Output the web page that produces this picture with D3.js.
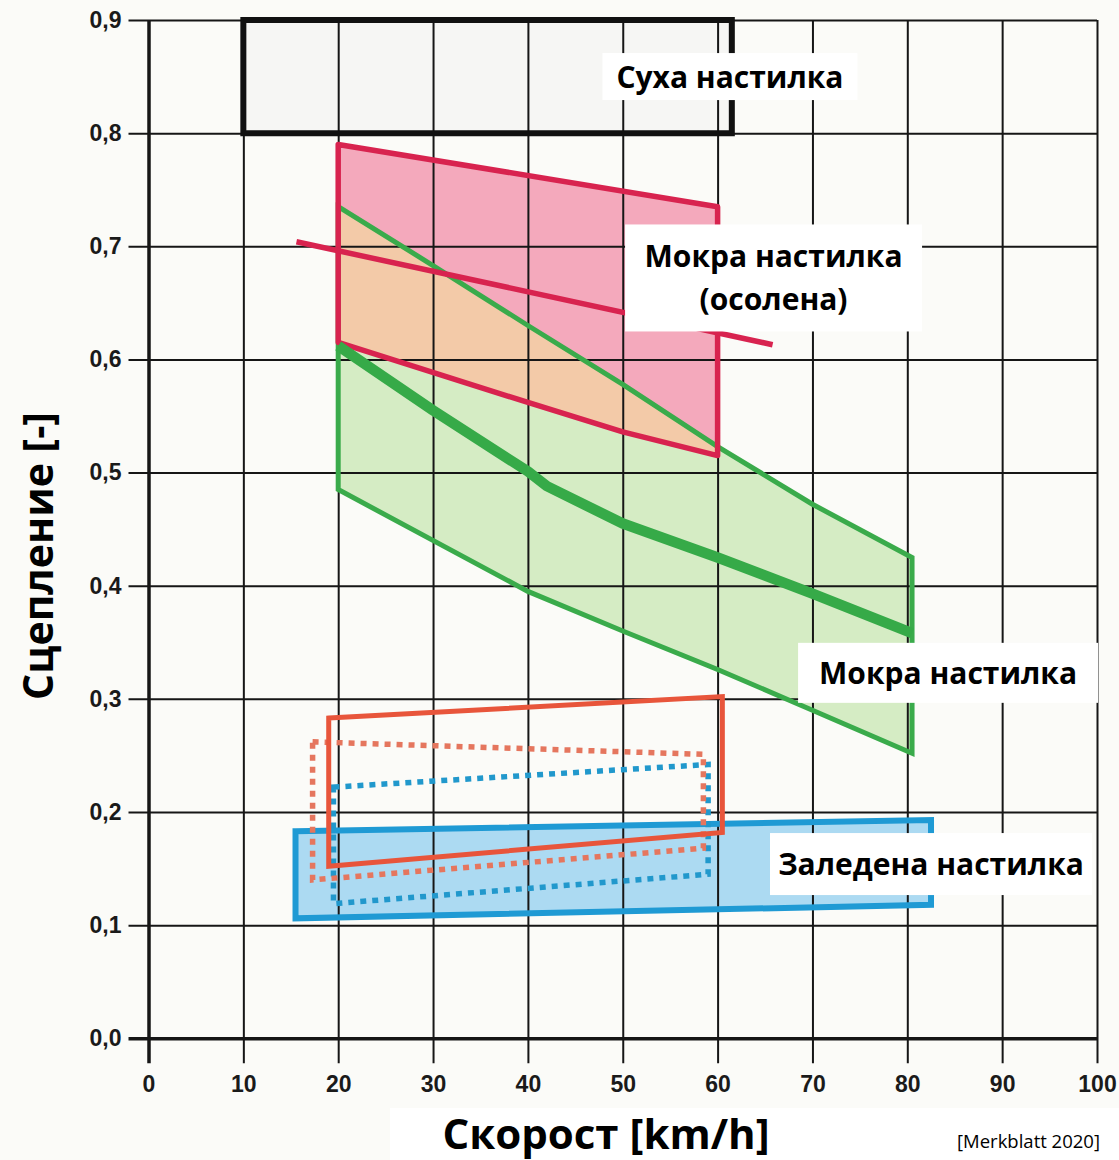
<!DOCTYPE html>
<html>
<head>
<meta charset="utf-8">
<script src="https://cdn.jsdelivr.net/npm/d3@7"></script>
<style>
  body { margin: 0; background: #fbfbf8; }
  svg { display: block; }
</style>
</head>
<body>
<div id="viz"></div>
<script>
// ticks
var xTicks = [0, 10, 20, 30, 40, 50, 60, 70, 80, 90, 100];
var yTicks = [0, 0.1, 0.2, 0.3, 0.4, 0.5, 0.6, 0.7, 0.8, 0.9];

// dry surface box  [speed, friction]
var dryBox = [[10, 0.9], [61.5, 0.9], [61.5, 0.8], [10, 0.8]];

// wet salted surface
var saltTop = [[20, 0.79], [60, 0.735]];
var saltLow = [[20, 0.615], [40, 0.562], [50, 0.536], [60, 0.515]];
var saltLine = [[15.6, 0.704], [65.8, 0.613]];

// wet surface band
var wetUpper = [[20, 0.735], [30, 0.683], [40, 0.63], [50, 0.578], [60, 0.523], [70, 0.472], [80.5, 0.425]];
var wetMid = [[20, 0.612], [30, 0.555], [40, 0.501], [42, 0.488], [50, 0.455], [60, 0.425], [70, 0.393], [80.5, 0.358]];
var wetLower = [[20, 0.485], [40, 0.395], [50, 0.36], [60, 0.326], [70, 0.29], [80.5, 0.252]];

// icy / snowy surface
var iceBox = [[15.5, 0.183], [82.5, 0.193], [82.5, 0.118], [15.5, 0.106]];
var orangeBox = [[19, 0.283], [60.5, 0.302], [60.5, 0.182], [19, 0.152]];
var orangeDotBox = [[17.3, 0.262], [58.5, 0.251], [58.5, 0.168], [17.3, 0.14]];
var blueDotBox = [[19.5, 0.222], [59, 0.242], [59, 0.145], [19.5, 0.119]];

// labels: [text lines, centre speed, centre friction, box w, box h]
var labels = [
  [["Суха настилка"], 61.3, 0.850, 255, 47],
  [["Мокра настилка", "(осолена)"], 65.9, 0.672, 297, 107],
  [["Мокра настилка"], 84.3, 0.323, 300, 60],
  [["Заледена настилка"], 82.5, 0.154, 322, 62]
];

var w = 1119, h = 1160;

var svg = d3.select("#viz").append("svg")
    .attr("width", w)
    .attr("height", h);

var x = d3.scaleLinear().domain([0, 100]).range([148.5, 1097]);
var y = d3.scaleLinear().domain([0, 0.9]).range([1038.3, 20]);

var line = d3.line().x(function(d) { return x(d[0]); }).y(function(d) { return y(d[1]); });
var poly = function(pts) { return line(pts) + "Z"; };

// white strip under the x title
svg.append("rect")
    .attr("x", 390).attr("y", 1108)
    .attr("width", w - 390).attr("height", h - 1108)
    .style("fill", "#fff");

// fills
svg.append("path")
    .attr("d", poly(dryBox))
    .style("fill", "#f6f6f4");

svg.append("path")
    .attr("d", poly(wetUpper.concat(wetLower.slice().reverse())))
    .style("fill", "#d5ecc4");

svg.append("path")
    .attr("d", poly(saltTop.concat(saltLow.slice().reverse())))
    .style("fill", "#f4a9bc");

// overlap of salted and wet: green top line down to red low line
svg.append("path")
    .attr("d", poly(wetUpper.filter(function(d) { return d[0] <= 60; }).concat(saltLow.slice().reverse())))
    .style("fill", "#f3caa8");

svg.append("path")
    .attr("d", poly(iceBox))
    .style("fill", "#acdaf2");

// grid + axes
var yAxis = svg.append("g")
    .attr("transform", "translate(" + x(100) + ",0)")
    .call(d3.axisLeft(y)
      .tickValues(yTicks)
      .tickSize(x(100) - x(0) + 20)
      .tickPadding(7)
      .tickSizeOuter(0)
      .tickFormat(function(d) { return d3.format(".1f")(d).replace(".", ","); }));

var xAxis = svg.append("g")
    .attr("transform", "translate(0," + y(0.9) + ")")
    .call(d3.axisBottom(x)
      .tickValues(xTicks)
      .tickSize(y(0) - y(0.9) + 25)
      .tickPadding(12)
      .tickSizeOuter(0));

svg.selectAll(".domain").remove();
svg.selectAll(".tick line")
    .style("stroke", "#161616")
    .style("stroke-width", 2);
yAxis.selectAll(".tick").filter(function(d) { return d === 0; }).select("line").style("stroke-width", 3.5);
xAxis.selectAll(".tick").filter(function(d) { return d === 0; }).select("line").style("stroke-width", 3.5);
svg.selectAll(".tick text")
    .style("font-family", "Liberation Sans, Arial, sans-serif")
    .style("font-weight", "bold")
    .style("font-size", "23px")
    .style("fill", "#1a1a1a");

// outlines
svg.append("path")
    .attr("d", poly(dryBox))
    .style("fill", "none")
    .style("stroke", "#111")
    .style("stroke-width", 6);

svg.append("path")
    .attr("d", poly(wetUpper.concat(wetLower.slice().reverse())))
    .style("fill", "none")
    .style("stroke", "#3aab4b")
    .style("stroke-width", 5);

svg.append("path")
    .attr("d", poly(saltTop.concat(saltLow.slice().reverse())))
    .style("fill", "none")
    .style("stroke", "#d8234f")
    .style("stroke-width", 5.5)
    .style("stroke-linejoin", "round");

svg.append("path")
    .attr("d", line(wetMid))
    .style("fill", "none")
    .style("stroke", "#36aa48")
    .style("stroke-width", 10.5)
    .style("stroke-linejoin", "round");

svg.append("path")
    .attr("d", line(saltLine))
    .style("fill", "none")
    .style("stroke", "#d8234f")
    .style("stroke-width", 5.5);

svg.append("path")
    .attr("d", poly(iceBox))
    .style("fill", "none")
    .style("stroke", "#1f9ad4")
    .style("stroke-width", 6);

svg.append("path")
    .attr("d", poly(blueDotBox))
    .style("fill", "none")
    .style("stroke", "#2198cc")
    .style("stroke-width", 5.5)
    .style("stroke-dasharray", "6,6");

svg.append("path")
    .attr("d", poly(orangeDotBox))
    .style("fill", "none")
    .style("stroke", "#e5765e")
    .style("stroke-width", 5.5)
    .style("stroke-dasharray", "6,6");

svg.append("path")
    .attr("d", poly(orangeBox))
    .style("fill", "none")
    .style("stroke", "#e8553b")
    .style("stroke-width", 5);

// label boxes
labels.forEach(function(l) {
  var cx = x(l[1]), cy = y(l[2]);
  svg.append("rect")
      .attr("x", cx - l[3] / 2)
      .attr("y", cy - l[4] / 2)
      .attr("width", l[3])
      .attr("height", l[4])
      .style("fill", "#fff");
  var n = l[0].length;
  l[0].forEach(function(t, i) {
    svg.append("text")
        .attr("x", cx)
        .attr("y", cy + (i - (n - 1) / 2) * 43 + 11)
        .attr("text-anchor", "middle")
        .style("font-family", "Open Sans, Noto Sans, sans-serif")
        .style("font-weight", "bold")
        .style("font-size", "30px")
        .style("fill", "#000")
        .text(t);
  });
});

// axis titles
svg.append("text")
    .attr("transform", "translate(53,556) rotate(-90)")
    .attr("text-anchor", "middle")
    .style("font-family", "Open Sans, Noto Sans, sans-serif")
    .style("font-weight", "bold")
    .style("font-size", "41px")
    .text("Сцепление [-]");

svg.append("text")
    .attr("x", 606)
    .attr("y", 1149)
    .attr("text-anchor", "middle")
    .style("font-family", "Open Sans, Noto Sans, sans-serif")
    .style("font-weight", "bold")
    .style("font-size", "42px")
    .text("Скорост [km/h]");

svg.append("text")
    .attr("x", 1100)
    .attr("y", 1148)
    .attr("text-anchor", "end")
    .style("font-family", "Open Sans, Noto Sans, sans-serif")
    .style("font-size", "18.5px")
    .text("[Merkblatt 2020]");
</script>
</body>
</html>
